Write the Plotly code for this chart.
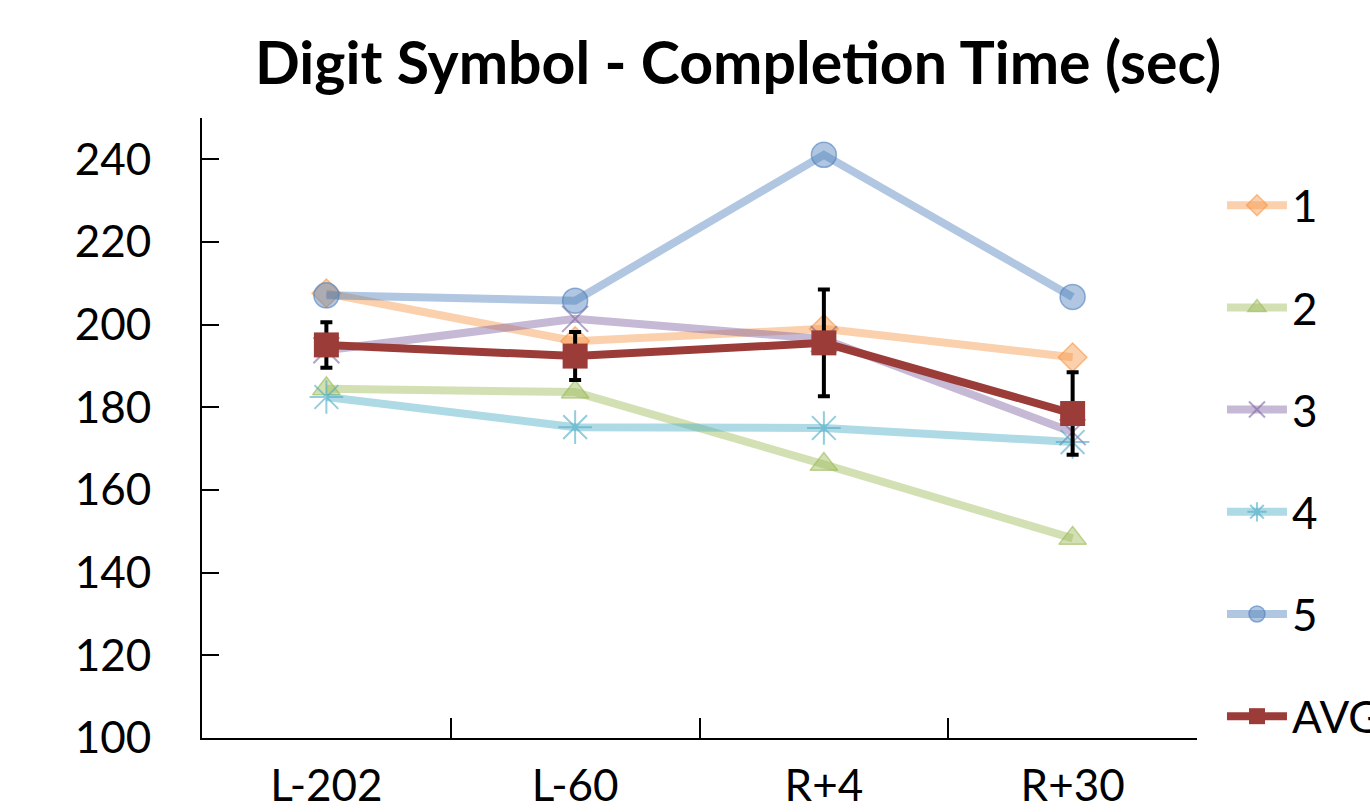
import plotly.graph_objects as go

# Test sessions along the x axis
sessions = ["L-202", "L-60", "R+4", "R+30"]

# Completion time (sec) per subject
subj_1 = [207.6, 196.0, 199.0, 192.1]
subj_2 = [184.5, 183.7, 166.2, 148.3]
subj_3 = [193.8, 201.4, 196.5, 174.0]
subj_4 = [182.5, 175.2, 175.0, 171.6]
subj_5 = [207.1, 205.8, 241.1, 206.7]

# Group mean and its error bar half-width
avg = [195.1, 192.4, 195.6, 178.5]
avg_err = [5.5, 5.8, 12.9, 10.0]

y_ticks = [100, 120, 140, 160, 180, 200, 220, 240]

FONT = "Lato"

subjects = [
    ("1", subj_1, "diamond", (247, 150, 70), 22),
    ("2", subj_2, "triangle-up", (155, 187, 89), 24),
    ("3", subj_3, "x-thin", (128, 100, 162), 26),
    ("4", subj_4, "asterisk", (75, 172, 198), 28),
    ("5", subj_5, "circle", (79, 129, 189), 25),
]


def rgba(c, a):
    return f"rgba({c[0]},{c[1]},{c[2]},{a})"


fig = go.Figure()

for i, (name, vals, sym, col, size) in enumerate(subjects):
    line_only = sym in ("x-thin", "asterisk")
    fig.add_trace(go.Scatter(
        x=sessions, y=vals, name=name, mode="lines+markers",
        legendgroup=f"g{i}",
        line=dict(color=rgba(col, 0.45), width=8),
        marker=dict(
            symbol=sym, size=size,
            color=rgba(col, 0.45),
            line=dict(color=rgba(col, 0.6), width=2 if line_only else 1.5),
        ),
    ))

fig.add_trace(go.Scatter(
    x=sessions, y=avg, name="AVG", mode="lines+markers",
    legendgroup="gavg",
    line=dict(color="#9B3C39", width=8),
    marker=dict(symbol="square", size=25, color="#9B3C39"),
    error_y=dict(type="data", array=avg_err, visible=True,
                 color="black", thickness=4, width=6),
))

fig.update_layout(
    width=1370, height=812,
    paper_bgcolor="white", plot_bgcolor="white",
    margin=dict(l=202, r=173, t=118, b=74, autoexpand=False),
    font=dict(family=FONT, color="black", size=44),
    title=dict(
        text="<b>Digit Symbol - Completion Time (sec)</b>",
        font=dict(family=FONT, size=59, color="black"),
        x=0.5387, xref="container", xanchor="center",
        y=0.922, yref="container", yanchor="middle",
    ),
    showlegend=True,
    legend=dict(
        x=1.0251, xanchor="left", y=0.916, yanchor="top",
        traceorder="grouped", tracegroupgap=42,
        font=dict(family=FONT, size=44, color="black"),
        bgcolor="rgba(0,0,0,0)", itemwidth=60,
    ),
    xaxis=dict(
        type="category", categoryorder="array", categoryarray=sessions,
        range=[-0.5, 3.5],
        showline=True, linecolor="black", linewidth=2,
        ticks="inside", ticklen=20, tickwidth=2, tickcolor="black",
        tickson="boundaries", showgrid=False, zeroline=False,
        ticklabelstandoff=8,
        tickfont=dict(family=FONT, size=44),
    ),
    yaxis=dict(
        range=[100, 250], tickvals=y_ticks,
        showline=True, linecolor="black", linewidth=2,
        ticks="inside", ticklen=17, tickwidth=2, tickcolor="black",
        showgrid=False, zeroline=False,
        ticklabelstandoff=40,
        tickfont=dict(family=FONT, size=44),
    ),
)

fig.write_html("out.html")
